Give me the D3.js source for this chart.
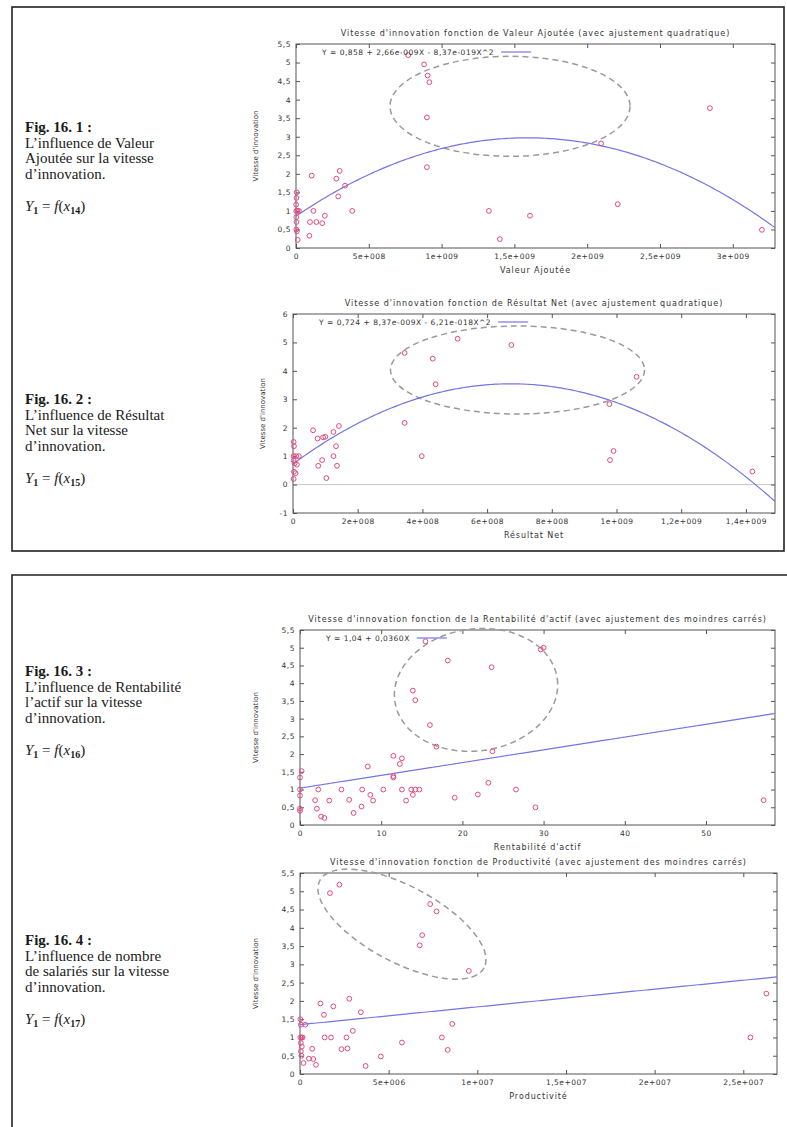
<!DOCTYPE html>
<html>
<head>
  <meta charset="utf-8">
  <title>Fig. 16</title>
  <style>
    body { margin: 0; background: #fff; }
  </style>
</head>
<body>
  <script src="https://d3js.org/d3.v7.min.js"></script>
  <script>
    // ---- data ----
    // Fig 16.1 : Valeur Ajoutee
    var va_x = [7.71e8, 8.8e8, 9.04e8, 9.16e8, 8.99e8, 2.096e9, 2.843e9, 8.99e8,
      1.08e8, 2.77e8, 3.0e8, 3.37e8, 2.9e8, 3.86e8, 1.2e8, 1.98e8, 0.96e8, 1.4e8, 1.8e8, 0.92e8, 0.12e8,
      1.325e9, 1.40e9, 1.607e9, 2.21e9, 3.2e9,
      0.05e8, 0.03e8, 0.02e8, 0.1e8, 0.2e8, 0.02e8, 0.03e8, 0.02e8, 0.06e8, 0.01e8];
    var va_y = [5.2, 4.95, 4.65, 4.47, 3.52, 2.82, 3.77, 2.18,
      1.95, 1.87, 2.08, 1.68, 1.39, 1.0, 1.0, 0.87, 0.7, 0.7, 0.67, 0.33, 0.22,
      1.0, 0.24, 0.87, 1.18, 0.49,
      1.5, 1.35, 1.0, 1.0, 1.0, 0.83, 0.7, 0.5, 0.45, 1.17];
    var va_fit = [0.858, 2.66e-9, -8.37e-19];

    // Fig 16.2 : Resultat Net
    var rn_x = [3.45e8, 4.32e8, 5.09e8, 6.75e8, 4.41e8, 1.062e9, 9.78e8, 3.45e8, 3.98e8, 9.8e8, 9.91e8, 1.42e9,
      0.62e8, 0.76e8, 0.93e8, 1.0e8, 1.25e8, 1.42e8, 1.33e8, 1.25e8, 1.36e8, 0.9e8, 0.78e8, 1.03e8,
      0.02e8, 0.03e8, 0.02e8, 0.1e8, 0.18e8, 0.02e8, 0.05e8, 0.12e8, 0.03e8, 0.08e8, 0.02e8];
    var rn_y = [4.63, 4.43, 5.13, 4.91, 3.53, 3.79, 2.83, 2.17, 1.0, 0.86, 1.18, 0.46,
      1.91, 1.62, 1.66, 1.68, 1.85, 2.06, 1.35, 1.0, 0.66, 0.86, 0.66, 0.23,
      1.5, 1.35, 1.0, 1.0, 1.0, 0.85, 0.75, 0.7, 0.45, 0.4, 0.2];
    var rn_fit = [0.724, 8.37e-9, -6.21e-18];

    // Fig 16.3 : Rentabilite d'actif
    var ra_x = [15.45, 18.2, 23.6, 29.65, 30.0, 13.9, 14.2, 16.0, 16.8, 23.7, 11.5, 12.55, 12.3, 8.35, 11.5, 11.5,
      0.2, 0, 2.25, 5.1, 7.66, 10.26, 12.55, 13.7, 14.2, 14.7, 26.6, 0, 23.2, 21.9, 19.05, 8.66, 13.9,
      1.86, 3.6, 6.06, 9.0, 13.07, 29.0, 57.1, 2.08, 7.58, 6.6, 0, 3.0, 2.6, 0, 0];
    var ra_y = [5.18, 4.64, 4.45, 4.95, 5.0, 3.79, 3.52, 2.82, 2.21, 2.08, 1.95, 1.88, 1.72, 1.65, 1.38, 1.34,
      1.52, 1.34, 1.0, 1.0, 1.0, 1.0, 1.0, 1.0, 1.0, 1.0, 1.0, 0.83, 1.19, 0.86, 0.77, 0.85, 0.85,
      0.7, 0.69, 0.71, 0.69, 0.69, 0.5, 0.7, 0.46, 0.52, 0.34, 0.46, 0.2, 0.24, 1.0, 0.4];
    var ra_fit = [1.04, 0.0360];

    // Fig 16.4 : Productivite
    var pr_x = [2.22e6, 1.69e6, 7.34e6, 7.7e6, 6.89e6, 6.75e6, 9.52e6, 2.63e7, 2.54e7,
      1.15e6, 1.88e6, 2.78e6, 1.35e6, 3.43e6, 8.59e6, 2.98e6, 1.39e6, 1.75e6, 2.62e6, 8.0e6,
      5.75e6, 8.33e6, 2.34e6, 2.68e6, 0.69e6, 4.56e6, 0.75e6,
      0.02e6, 0.05e6, 0.3e6, 0.02e6, 0.1e6, 0.15e6, 0.05e6, 0.1e6, 0.05e6, 0.08e6, 0.5e6, 0.2e6, 0.9e6, 3.7e6];
    var pr_y = [5.18, 4.95, 4.65, 4.45, 3.8, 3.52, 2.82, 2.2, 1.0,
      1.93, 1.85, 2.06, 1.62, 1.69, 1.37, 1.18, 1.0, 1.0, 1.0, 1.0,
      0.86, 0.66, 0.68, 0.7, 0.69, 0.48, 0.41,
      1.5, 1.35, 1.35, 1.0, 1.0, 1.0, 0.85, 0.75, 0.62, 0.5, 0.42, 0.3, 0.25, 0.22];
    var pr_fit = [1.35, 4.86e-8];

    // ---- tick labels ----
    var ticks05 = [0, 0.5, 1, 1.5, 2, 2.5, 3, 3.5, 4, 4.5, 5, 5.5];
    var ticks05Labels = ["0", "0,5", "1", "1,5", "2", "2,5", "3", "3,5", "4", "4,5", "5", "5,5"];
    var rnYTicks = [-1, 0, 1, 2, 3, 4, 5, 6];
    var rnYLabels = ["-1", "0", "1", "2", "3", "4", "5", "6"];
    var vaXTicks = [0, 5e8, 1e9, 1.5e9, 2e9, 2.5e9, 3e9];
    var vaXLabels = ["0", "5e+008", "1e+009", "1,5e+009", "2e+009", "2,5e+009", "3e+009"];
    var rnXTicks = [0, 2e8, 4e8, 6e8, 8e8, 1e9, 1.2e9, 1.4e9];
    var rnXLabels = ["0", "2e+008", "4e+008", "6e+008", "8e+008", "1e+009", "1,2e+009", "1,4e+009"];
    var raXTicks = [0, 10, 20, 30, 40, 50];
    var raXLabels = ["0", "10", "20", "30", "40", "50"];
    var prXTicks = [0, 5e6, 1e7, 1.5e7, 2e7, 2.5e7];
    var prXLabels = ["0", "5e+006", "1e+007", "1,5e+007", "2e+007", "2,5e+007"];

    var svg = d3.select("body").append("svg")
      .attr("width", 787)
      .attr("height", 1127)
      .style("font-family", "'DejaVu Sans', sans-serif");

    svg.append("rect").attr("width", 787).attr("height", 1127).attr("fill", "#fff");

    // page frames
    svg.append("rect")
      .attr("x", 12).attr("y", 7).attr("width", 772).attr("height", 544)
      .attr("fill", "none").attr("stroke", "#222").attr("stroke-width", 1.6);
    svg.append("path")
      .attr("d", "M12,1127V575H787")
      .attr("fill", "none").attr("stroke", "#222").attr("stroke-width", 1.6);

    // left captions
    function caption(lines, sub, y0) {
      var g = svg.append("g")
        .style("font-family", "'Liberation Serif', 'DejaVu Serif', serif")
        .style("font-size", "15px")
        .attr("fill", "#1a1a1a");
      lines.forEach(function (l, i) {
        g.append("text")
          .attr("x", 25)
          .attr("y", y0 + i * 15.5)
          .style("font-weight", i == 0 ? "bold" : "normal")
          .text(l);
      });
      var f = g.append("text").attr("x", 25).attr("y", y0 + 3 * 15.5 + 32).style("font-size", "15px");
      f.append("tspan").style("font-style", "italic").text("Y");
      f.append("tspan").attr("dy", 3).style("font-size", "10px").style("font-weight", "bold").text("1");
      f.append("tspan").attr("dy", -3).text(" = ");
      f.append("tspan").style("font-style", "italic").text("f");
      f.append("tspan").text("(");
      f.append("tspan").style("font-style", "italic").text("x");
      f.append("tspan").attr("dy", 3).style("font-size", "10px").style("font-weight", "bold").text(sub);
      f.append("tspan").attr("dy", -3).text(")");
    }

    caption(["Fig. 16. 1 :", "L’influence de Valeur", "Ajoutée sur la vitesse", "d’innovation."], "14", 132);
    caption(["Fig. 16. 2 :", "L’influence de Résultat", "Net sur la vitesse", "d’innovation."], "15", 404);
    caption(["Fig. 16. 3 :", "L’influence de Rentabilité", "l’actif sur la vitesse", "d’innovation."], "16", 676);
    caption(["Fig. 16. 4 :", "L’influence de nombre", "de salariés sur la vitesse", "d’innovation."], "17", 945);

    var pointColor = "#e34a80";
    var lineColor = "#7474e4";

    function drawPlot(p) {
      var width = p.right - p.left;
      var height = p.bottom - p.top;
      var g = svg.append("g").attr("transform", "translate(" + p.left + "," + p.top + ")");

      var x = d3.scaleLinear().domain(p.xDomain).range([0, width]);
      var y = d3.scaleLinear().domain(p.yDomain).range([height, 0]);

      var clipId = "clip" + p.id;
      g.append("clipPath").attr("id", clipId)
        .append("rect").attr("width", width).attr("height", height);

      // zero axis
      if (p.yDomain[0] < 0) {
        g.append("line")
          .attr("x1", 0).attr("x2", width)
          .attr("y1", y(0)).attr("y2", y(0))
          .attr("stroke", "#c8c8c8").attr("stroke-width", 1);
      }

      // axes with inward ticks
      var xAxis = d3.axisBottom(x).tickValues(p.xTicks)
        .tickFormat(function (d, i) { return p.xLabels[i]; })
        .tickSizeInner(-4).tickSizeOuter(0).tickPadding(6);
      var xTop = d3.axisTop(x).tickValues(p.xTicks).tickFormat("")
        .tickSizeInner(-4).tickSizeOuter(0);
      var yAxis = d3.axisLeft(y).tickValues(p.yTicks)
        .tickFormat(function (d, i) { return p.yLabels[i]; })
        .tickSizeInner(-4).tickSizeOuter(0).tickPadding(5);
      var yRight = d3.axisRight(y).tickValues(p.yTicks).tickFormat("")
        .tickSizeInner(-4).tickSizeOuter(0);

      var axes = [
        g.append("g").attr("transform", "translate(0," + height + ")").call(xAxis),
        g.append("g").call(xTop),
        g.append("g").call(yAxis),
        g.append("g").attr("transform", "translate(" + width + ",0)").call(yRight)
      ];
      axes.forEach(function (a) {
        a.select(".domain").remove();
        a.selectAll(".tick line").attr("stroke", "#555");
        a.selectAll("text").attr("fill", "#333").style("font-size", "7.5px")
          .style("letter-spacing", "0.5px")
          .style("font-family", "'DejaVu Sans', sans-serif");
      });

      g.append("rect")
        .attr("width", width).attr("height", height)
        .attr("fill", "none").attr("stroke", "#555").attr("stroke-width", 1);

      // title & labels
      g.append("text")
        .attr("x", width / 2).attr("y", -11).attr("dy", "0.35em")
        .attr("text-anchor", "middle")
        .attr("fill", "#333").style("font-size", "8px").style("letter-spacing", "0.95px")
        .text(p.title);
      g.append("text")
        .attr("x", width / 2).attr("y", height + 22).attr("dy", "0.35em")
        .attr("text-anchor", "middle")
        .attr("fill", "#333").style("font-size", "8px").style("letter-spacing", "0.9px")
        .text(p.xLabel);
      g.append("text")
        .attr("transform", "rotate(-90)")
        .attr("x", -height / 2).attr("y", p.yLabelX).attr("dy", "0.35em")
        .attr("text-anchor", "middle")
        .attr("fill", "#333").style("font-size", "7px")
        .text("Vitesse d'innovation");

      // dashed ellipse
      var e = p.ellipse;
      g.append("ellipse")
        .attr("transform", "translate(" + x(e.cx) + "," + y(e.cy) + ") rotate(" + e.angle + ")")
        .attr("rx", e.rx).attr("ry", e.ry)
        .attr("fill", "none").attr("stroke", "#9a9a9a")
        .attr("stroke-width", 1.5).attr("stroke-dasharray", "6,4");

      // fitted curve
      var c = p.fit;
      var xmax = p.xDomain[1];
      var curve = d3.range(0, 201).map(function (i) {
        var xv = xmax * i / 200;
        var yv = c[0] + c[1] * xv + (c.length > 2 ? c[2] * xv * xv : 0);
        return [xv, yv];
      });
      g.append("path")
        .datum(curve)
        .attr("clip-path", "url(#" + clipId + ")")
        .attr("fill", "none").attr("stroke", lineColor).attr("stroke-width", 1.2)
        .attr("d", d3.line().x(function (d) { return x(d[0]); }).y(function (d) { return y(d[1]); }));

      // points
      g.selectAll(".pt")
        .data(p.xs.map(function (v, i) { return [v, p.ys[i]]; }))
        .enter()
        .append("circle")
        .attr("class", "pt")
        .attr("cx", function (d) { return x(d[0]); })
        .attr("cy", function (d) { return y(d[1]); })
        .attr("r", 2.4)
        .attr("fill", "none")
        .attr("stroke", pointColor)
        .attr("stroke-width", 1);

      // key
      if (p.legend) {
        var lt = g.append("text")
          .attr("x", 26).attr("y", 8).attr("dy", "0.35em")
          .attr("fill", "#333").style("font-size", "7.5px").style("letter-spacing", "0.5px")
          .text(p.legend);
        var len = lt.node().getComputedTextLength();
        g.append("line")
          .attr("x1", 26 + len + 7).attr("x2", 26 + len + 37)
          .attr("y1", 8).attr("y2", 8)
          .attr("stroke", lineColor).attr("stroke-width", 1.2);
      }
    }

    drawPlot({
      id: 1, left: 296, right: 775, top: 44, bottom: 248,
      xDomain: [0, 3.29e9], yDomain: [0, 5.5],
      xTicks: vaXTicks, xLabels: vaXLabels, yTicks: ticks05, yLabels: ticks05Labels,
      title: "Vitesse d'innovation fonction de Valeur Ajoutée (avec ajustement quadratique)",
      xLabel: "Valeur Ajoutée", yLabelX: -40,
      xs: va_x, ys: va_y, fit: va_fit,
      legend: "Y = 0,858 + 2,66e-009X - 8,37e-019X^2",
      ellipse: { cx: 1.47e9, cy: 3.82, rx: 120, ry: 50, angle: 0 }
    });

    drawPlot({
      id: 2, left: 293, right: 775, top: 314, bottom: 513,
      xDomain: [0, 1.49e9], yDomain: [-1, 6],
      xTicks: rnXTicks, xLabels: rnXLabels, yTicks: rnYTicks, yLabels: rnYLabels,
      title: "Vitesse d'innovation fonction de Résultat Net (avec ajustement quadratique)",
      xLabel: "Résultat Net", yLabelX: -30,
      xs: rn_x, ys: rn_y, fit: rn_fit,
      legend: "Y = 0,724 + 8,37e-009X - 6,21e-018X^2",
      ellipse: { cx: 6.94e8, cy: 4.03, rx: 127, ry: 44, angle: 0 }
    });

    drawPlot({
      id: 3, left: 300, right: 775, top: 630, bottom: 825,
      xDomain: [0, 58.5], yDomain: [0, 5.5],
      xTicks: raXTicks, xLabels: raXLabels, yTicks: ticks05, yLabels: ticks05Labels,
      title: "Vitesse d'innovation fonction de la Rentabilité d'actif (avec ajustement des moindres carrés)",
      xLabel: "Rentabilité d'actif", yLabelX: -44,
      xs: ra_x, ys: ra_y, fit: ra_fit,
      legend: "Y = 1,04 + 0,0360X",
      ellipse: { cx: 21.68, cy: 3.81, rx: 82, ry: 61, angle: -8 }
    });

    drawPlot({
      id: 4, left: 300, right: 777, top: 873, bottom: 1074,
      xDomain: [0, 2.69e7], yDomain: [0, 5.5],
      xTicks: prXTicks, xLabels: prXLabels, yTicks: ticks05, yLabels: ticks05Labels,
      title: "Vitesse d'innovation fonction de Productivité (avec ajustement des moindres carrés)",
      xLabel: "Productivité", yLabelX: -44,
      xs: pr_x, ys: pr_y, fit: pr_fit,
      legend: null,
      ellipse: { cx: 5.75e6, cy: 4.1, rx: 93, ry: 38, angle: 28 }
    });
  </script>
</body>
</html>
